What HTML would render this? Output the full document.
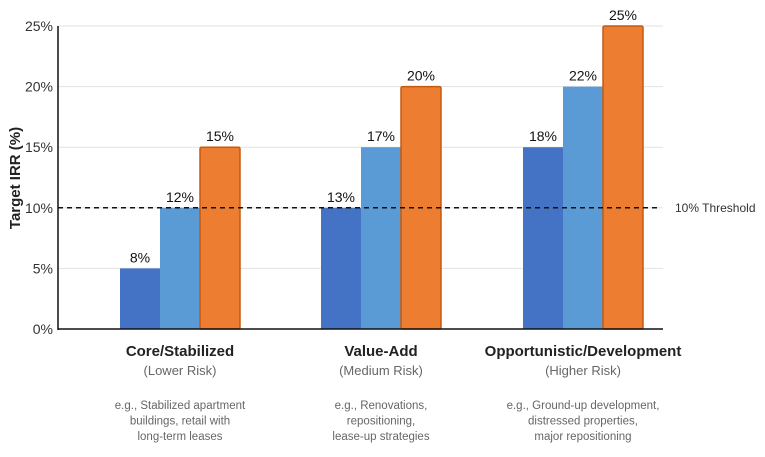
<!DOCTYPE html>
<html><head><meta charset="utf-8"><style>
body{margin:0;background:#fff;font-family:"Liberation Sans",Arial,sans-serif}
svg text{font-family:"Liberation Sans",Arial,sans-serif}
</style></head><body>
<svg id="chart" width="765" height="452" xmlns="http://www.w3.org/2000/svg"></svg>
<script>
const categories=["Core/Stabilized","Value-Add","Opportunistic/Development"];
const riskLabels=["(Lower Risk)","(Medium Risk)","(Higher Risk)"];
const descriptions=[["e.g., Stabilized apartment","buildings, retail with","long-term leases"],["e.g., Renovations,","repositioning,","lease-up strategies"],["e.g., Ground-up development,","distressed properties,","major repositioning"]];
const lowBars=[5,10,15];
const midBars=[10,15,20];
const highBars=[15,20,25];
const lowLabels=["8%","13%","18%"];
const midLabels=["12%","17%","22%"];
const highLabels=["15%","20%","25%"];
const yTicks=[0,5,10,15,20,25];
const threshold=10;

const svg=document.getElementById('chart');
const NS="http://www.w3.org/2000/svg";
const x0=58,xEnd=663,y0=329,yTop=26,yMax=25;
const y=v=>y0-(v/yMax)*(y0-yTop);
const groupCenters=[180,381,583];
const barW=40;
function mk(tag,attrs,txt){const e=document.createElementNS(NS,tag);for(const k in attrs)e.setAttribute(k,attrs[k]);if(txt!==undefined)e.textContent=txt;svg.appendChild(e);return e;}

yTicks.forEach(t=>{
  if(t>0){const g=mk('line',{x1:x0,x2:xEnd,y1:y(t),y2:y(t),stroke:'#e2e2e2','stroke-width':1});
  
  }
  const l=mk('text',{x:x0-5,y:y(t)+5,'text-anchor':'end','font-size':14,fill:'#333'},t+'%');
  
  
});
const yt=mk('text',{x:20,y:178,'text-anchor':'middle','font-size':15,'font-weight':'bold',fill:'#222',transform:'rotate(-90 20 178)'},'Target IRR (%)');



const series=[{v:lowBars,l:lowLabels,c:'#4472c4',s:'none',off:-1.5},{v:midBars,l:midLabels,c:'#5b9bd5',s:'none',off:-0.5},{v:highBars,l:highLabels,c:'#ed7d31',s:'#c55a11',off:0.5}];
series.forEach((s,si)=>{
  categories.forEach((c,i)=>{
    const bx=groupCenters[i]+s.off*barW;
    const r=mk('rect',{x:bx,y:y(s.v[i]),width:barW,height:y0-y(s.v[i]),fill:s.c,stroke:s.s,'stroke-width':s.s==='none'?0:1.5,rx:s.s==='none'?0:1.5});
    
    
    const t=mk('text',{x:bx+barW/2,y:y(s.v[i])-6,'text-anchor':'middle','font-size':14,fill:'#111'},s.l[i]);
    
    
  });
});

const th=mk('line',{x1:x0,x2:660,y1:y(threshold),y2:y(threshold),stroke:'#111','stroke-width':1.5,'stroke-dasharray':'5,4'});


const thl=mk('text',{x:675,y:y(threshold)+4,'font-size':12,fill:'#333'},'10% Threshold');



const ax=mk('line',{x1:x0,x2:x0,y1:yTop,y2:y0+1,stroke:'#111','stroke-width':1.5});


const bx=mk('line',{x1:x0,x2:xEnd,y1:y0,y2:y0,stroke:'#111','stroke-width':1.5});



categories.forEach((c,i)=>{
  const cx=groupCenters[i];
  const n=mk('text',{x:cx,y:356,'text-anchor':'middle','font-size':15,'font-weight':'bold',fill:'#222'},c);
  
  
  const r=mk('text',{x:cx,y:375,'text-anchor':'middle','font-size':13,fill:'#666'},riskLabels[i]);
  
  
  descriptions[i].forEach((d,j)=>{
    const t=mk('text',{x:cx,y:409+j*15.5,'text-anchor':'middle','font-size':11.5,fill:'#666'},d);
    
    
  });
});
</script>
</body></html>
